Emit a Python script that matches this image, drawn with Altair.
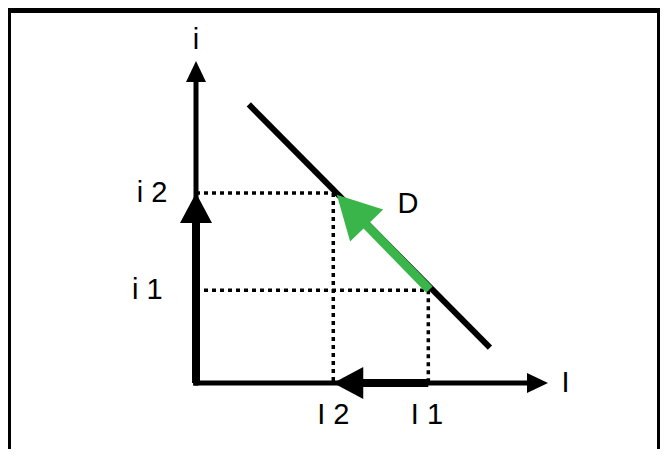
import altair as alt
import pandas as pd
import numpy as np

# ---- diagram values (abstract units: I on the horizontal axis, i on the vertical) ----
I_axis_end = 10.0
i_axis_end = 10.0
I_levels = [6.6, 3.9]          # I1, I2
i_levels = [2.88, 5.9]         # i1, i2
demand_I = [1.5, 8.35]         # demand curve D end points
demand_i = [8.65, 1.1]
shift_from = [6.63, 2.9]       # green arrow along D (tail)
shift_to = [4.0, 5.85]         # green arrow (tip)
label_text = ["i", "I", "i 2", "i 1", "I 2", "I 1", "D"]
label_I = [0.0, 10.5, -1.25, -1.38, 3.9, 6.56, 6.02]
label_i = [10.65, 0.0, 5.9, 2.88, -0.98, -0.98, 5.56]

# ---- layout / scales ----
UX, UY = 35.2, 32.2            # px per unit
W, H = 652, 441
OX, OY = 188, 375              # origin position inside the plot area
xs = alt.Scale(domain=[-OX / UX, (W - OX) / UX], nice=False, zero=False)
ys = alt.Scale(domain=[-(H - OY) / UY, OY / UY], nice=False, zero=False)


def back_off(x0, y0, x1, y1, px):
    dxp, dyp = (x1 - x0) * UX, (y1 - y0) * UY
    L = np.hypot(dxp, dyp)
    return x1 - (x1 - x0) * px / L, y1 - (y1 - y0) * px / L


def seg_df(rows):
    return pd.DataFrame(rows, columns=["x", "y", "x2", "y2"])


def rules(df, **kw):
    return alt.Chart(df).mark_rule(**kw).encode(
        x=alt.X("x:Q", scale=xs, axis=None),
        y=alt.Y("y:Q", scale=ys, axis=None),
        x2="x2:Q", y2="y2:Q")


def heads(df, path, color):
    return alt.Chart(df).mark_point(shape=path, filled=True, size=4, opacity=1,
                                    color=color, strokeWidth=0).encode(
        x=alt.X("x:Q", scale=xs, axis=None),
        y=alt.Y("y:Q", scale=ys, axis=None),
        angle=alt.Angle("ang:Q", scale=None))


I1, I2 = I_levels
i1, i2 = i_levels

# axes
ax_y_end = back_off(0, 0, 0, i_axis_end, 12)
ax_x_end = back_off(0, 0, I_axis_end, 0, 12)
axes = rules(seg_df([[0, 0, 0, ax_y_end[1]], [0, 0, ax_x_end[0], 0]]),
             color="black", strokeWidth=5)
axes_extra = rules(seg_df([[0, 0, 0, -0.08], [-0.08, 0, 0, 0]]), color="black", strokeWidth=5)
axis_heads = heads(pd.DataFrame({"x": [0, I_axis_end], "y": [i_axis_end, 0], "ang": [0, 90]}),
                   "M0,0L-10,21L10,21Z", "black")

# dotted guides
dots = rules(seg_df([[0, i2, I2, i2], [I2, i2, I2, 0], [0, i1, I1, i1], [I1, i1, I1, 0]]),
             color="black", strokeWidth=3.5, strokeDash=[4, 4])

# demand curve
demand = rules(seg_df([[demand_I[0], demand_i[0], demand_I[1], demand_i[1]]]),
               color="black", strokeWidth=6)

# black shift arrows
sy = back_off(0, 0, 0, i2, 22)
sx = back_off(I1, 0, I2, 0, 22)
shift_black = rules(seg_df([[0, 0, 0, sy[1]], [I1, 0, sx[0], 0]]), color="black", strokeWidth=8)
shift_black_heads = heads(pd.DataFrame({"x": [0, I2], "y": [i2, 0], "ang": [0, 270]}),
                          "M0,0L-16,30L16,30Z", "black")

# green arrow along D
GREEN = "#3AB54A"
gs = back_off(shift_from[0], shift_from[1], shift_to[0], shift_to[1], 30)
green = rules(seg_df([[shift_from[0], shift_from[1], gs[0], gs[1]]]), color=GREEN, strokeWidth=9)
green_head = heads(pd.DataFrame({"x": [shift_to[0]], "y": [shift_to[1]], "ang": [316]}),
                   "M0,0L-23,43L23,43Z", GREEN)

labels = alt.Chart(pd.DataFrame({"t": label_text, "x": label_I, "y": label_i})).mark_text(
    font="Liberation Sans", fontSize=29, align="center", baseline="middle", color="black"
).encode(x=alt.X("x:Q", scale=xs, axis=None), y=alt.Y("y:Q", scale=ys, axis=None), text="t:N")

# frame
frame_top = alt.Chart().mark_rule(color="black", strokeWidth=5).encode(
    x=alt.value(0), x2=alt.value(W), y=alt.value(2.5))
frame_left = alt.Chart().mark_rule(color="black", strokeWidth=3).encode(
    x=alt.value(1.5), y=alt.value(0), y2=alt.value(H))
frame_right = alt.Chart().mark_rule(color="black", strokeWidth=3).encode(
    x=alt.value(W - 1.5), y=alt.value(0), y2=alt.value(H))

chart = alt.layer(
    dots, demand, axes, axes_extra, axis_heads, shift_black, shift_black_heads,
    green, green_head, labels, frame_top, frame_left, frame_right
).properties(
    width=W, height=H, autosize="none", padding=0, background="white"
).configure_view(stroke=None)

chart.save("out.html", embed_options={"renderer": "svg", "actions": False})
